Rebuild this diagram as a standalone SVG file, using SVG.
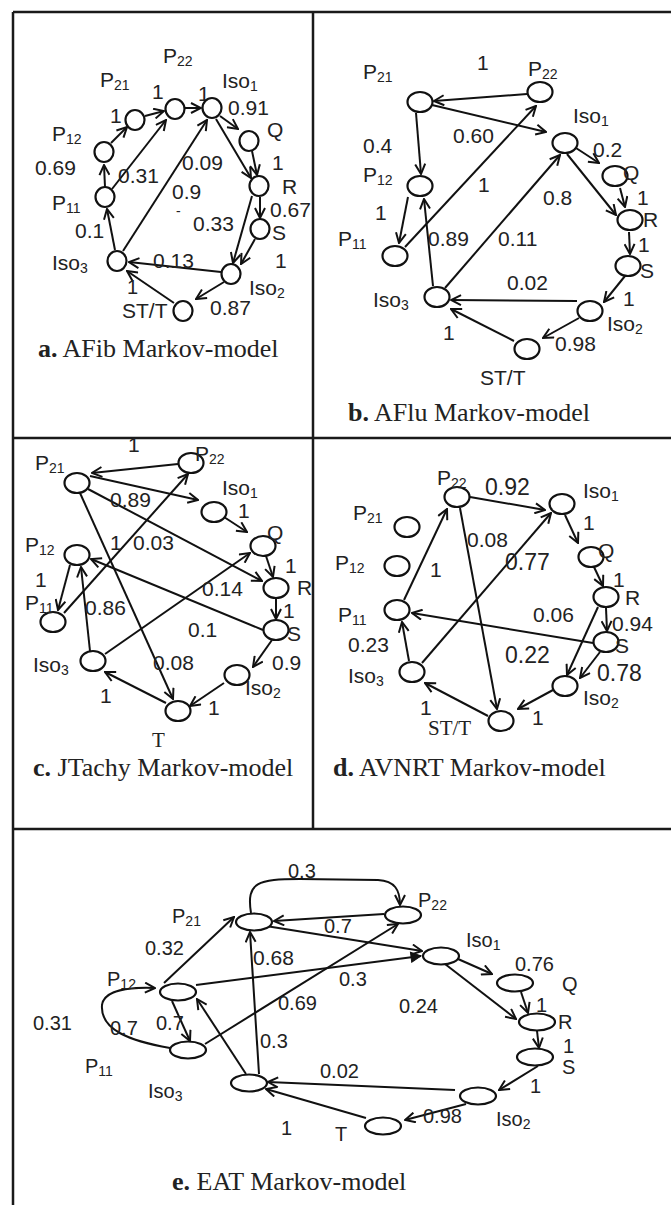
<svg xmlns="http://www.w3.org/2000/svg" width="671" height="1205" viewBox="0 0 671 1205">
<style>
.frame{fill:none;stroke:#1a1a1a;stroke-width:2.5}
.n{fill:#fff;stroke:#111;stroke-width:2.2}
.e{fill:none;stroke:#111;stroke-width:2;marker-end:url(#ah)}
.ef{fill:none;stroke:#111;stroke-width:2;marker-end:url(#ahf)}
text{font-family:"Liberation Sans",Arial,sans-serif;font-size:21px;fill:#222}
.sub{font-size:14px}
.cap{font-family:"Liberation Serif","Times New Roman",serif;font-size:26px;fill:#222}
.ser{font-family:"Liberation Serif","Times New Roman",serif;font-size:21px}
.e5 text{font-size:20px}
</style>
<defs>
<marker id="ah" viewBox="0 0 12 12" refX="11" refY="6" markerWidth="12" markerHeight="12" orient="auto" markerUnits="userSpaceOnUse"><path d="M1,1 L11,6 L1,11" fill="none" stroke="#111" stroke-width="2"/></marker>
<marker id="ahf" viewBox="0 0 12 12" refX="11" refY="6" markerWidth="12" markerHeight="12" orient="auto" markerUnits="userSpaceOnUse"><path d="M1,1 L11,6 L1,11 Z" fill="#111" stroke="#111" stroke-width="1"/></marker>
</defs>
<rect width="671" height="1205" fill="#fff"/>
<g id="frame">
<path class="frame" d="M13,12 H671 M13,12 V1205 M313,12 V829 M13,438 H671 M13,829 H671"/>
</g>

<!-- Panel a -->
<g id="a-connectors">
<line class="e" x1="105" y1="187" x2="104" y2="165"/>
<line class="e" x1="111" y1="143" x2="127" y2="127"/>
<line class="e" x1="145" y1="116" x2="164" y2="111"/>
<line class="e" x1="185" y1="108" x2="201" y2="108"/>
<line class="e" x1="220" y1="116" x2="238" y2="129"/>
<line class="e" x1="252" y1="151" x2="257" y2="175"/>
<line class="e" x1="216" y1="119" x2="251" y2="178"/>
<line class="e" x1="112" y1="189" x2="166" y2="120"/>
<line class="e" x1="123" y1="251" x2="207" y2="120"/>
<line class="e" x1="260" y1="197" x2="260" y2="218"/>
<line class="e" x1="252" y1="196" x2="233" y2="263"/>
<line class="e" x1="255" y1="239" x2="241" y2="264"/>
<line class="e" x1="221" y1="272" x2="129" y2="262"/>
<line class="e" x1="224" y1="282" x2="196" y2="299"/>
<line class="e" x1="174" y1="303" x2="127" y2="271"/>
<line class="e" x1="115" y1="250" x2="107" y2="209"/>
<text x="152" y="99">1</text>
<text x="198" y="101">1</text>
<text x="110" y="123">1</text>
<text x="228" y="115">0.91</text>
<text x="35" y="175">0.69</text>
<text x="118" y="183">0.31</text>
<text x="182" y="170">0.09</text>
<text x="272" y="170">1</text>
<text x="172" y="199">0.9</text>
<text x="176" y="216" style="font-size:14px">-</text>
<text x="270" y="217">0.67</text>
<text x="193" y="231">0.33</text>
<text x="75" y="238">0.1</text>
<text x="153" y="268">0.13</text>
<text x="275" y="268">1</text>
<text x="127" y="294" style="font-size:20px">1</text>
<text x="210" y="315">0.87</text>
</g>
<g id="a-P11"><ellipse class="n" cx="105" cy="197" rx="9.5" ry="10"/><text x="52" y="210">P<tspan class="sub" dy="3">11</tspan></text></g>
<g id="a-P12"><ellipse class="n" cx="104" cy="152" rx="9.5" ry="10"/><text x="52" y="141">P<tspan class="sub" dy="3">12</tspan></text></g>
<g id="a-P21"><ellipse class="n" cx="135" cy="120" rx="9.5" ry="10"/><text x="100" y="87">P<tspan class="sub" dy="3">21</tspan></text></g>
<g id="a-P22"><ellipse class="n" cx="175" cy="109" rx="9.5" ry="10"/><text x="163" y="63">P<tspan class="sub" dy="3">22</tspan></text></g>
<g id="a-Iso1"><ellipse class="n" cx="212" cy="108" rx="9.5" ry="10"/><text x="222" y="88">Iso<tspan class="sub" dy="3">1</tspan></text></g>
<g id="a-Q"><ellipse class="n" cx="249" cy="141" rx="9.5" ry="10"/><text x="267" y="137">Q</text></g>
<g id="a-R"><ellipse class="n" cx="259" cy="186" rx="9.5" ry="10"/><text x="282" y="194">R</text></g>
<g id="a-S"><ellipse class="n" cx="260" cy="229" rx="9.5" ry="10"/><text x="272" y="240">S</text></g>
<g id="a-Iso2"><ellipse class="n" cx="231" cy="274" rx="9.5" ry="10"/><text x="249" y="295">Iso<tspan class="sub" dy="3">2</tspan></text></g>
<g id="a-Iso3"><ellipse class="n" cx="117" cy="261" rx="9.5" ry="10"/><text x="52" y="270">Iso<tspan class="sub" dy="3">3</tspan></text></g>
<g id="a-STT"><ellipse class="n" cx="183" cy="311" rx="9.5" ry="10"/><text x="122" y="318">ST/T</text></g>
<text class="cap" x="38" y="357"><tspan font-weight="bold">a.</tspan> AFib Markov-model</text>

<!-- Panel b -->
<g id="b-connectors">
<line class="e" x1="527" y1="94" x2="434" y2="101"/>
<line class="e" x1="432" y1="105" x2="546" y2="132"/>
<line class="e" x1="416" y1="113" x2="421" y2="174"/>
<line class="e" x1="408" y1="197" x2="399" y2="243"/>
<line class="e" x1="405" y1="247" x2="536" y2="106"/>
<line class="e" x1="433" y1="286" x2="424" y2="199"/>
<line class="e" x1="445" y1="288" x2="560" y2="155"/>
<line class="e" x1="576" y1="148" x2="599" y2="163"/>
<line class="e" x1="567" y1="154" x2="616" y2="215"/>
<line class="e" x1="620" y1="188" x2="625" y2="207"/>
<line class="e" x1="629" y1="232" x2="630" y2="254"/>
<line class="e" x1="625" y1="276" x2="604" y2="302"/>
<line class="e" x1="577" y1="301" x2="451" y2="300"/>
<line class="e" x1="579" y1="318" x2="543" y2="338"/>
<line class="e" x1="514" y1="341" x2="451" y2="309"/>
<text x="477" y="70">1</text>
<text x="453" y="143">0.60</text>
<text x="363" y="153">0.4</text>
<text x="593" y="157">0.2</text>
<text x="478" y="192">1</text>
<text x="543" y="205">0.8</text>
<text x="637" y="205">1</text>
<text x="375" y="220">1</text>
<text x="428" y="246">0.89</text>
<text x="498" y="246">0.11</text>
<text x="638" y="252">1</text>
<text x="507" y="290">0.02</text>
<text x="623" y="306">1</text>
<text x="443" y="340">1</text>
<text x="555" y="351">0.98</text>
</g>
<g id="b-P21"><ellipse class="n" cx="420" cy="102" rx="12.5" ry="10"/><text x="363" y="79">P<tspan class="sub" dy="3">21</tspan></text></g>
<g id="b-P22"><ellipse class="n" cx="540" cy="92" rx="12.5" ry="10"/><text x="528" y="76">P<tspan class="sub" dy="3">22</tspan></text></g>
<g id="b-Iso1"><ellipse class="n" cx="565" cy="143" rx="12.5" ry="10"/><text x="573" y="123">Iso<tspan class="sub" dy="3">1</tspan></text></g>
<g id="b-Q"><ellipse class="n" cx="615" cy="176" rx="12.5" ry="10"/><text x="623" y="180">Q</text></g>
<g id="b-P12"><ellipse class="n" cx="420" cy="186" rx="12.5" ry="10"/><text x="363" y="182">P<tspan class="sub" dy="3">12</tspan></text></g>
<g id="b-R"><ellipse class="n" cx="630" cy="220" rx="12.5" ry="10"/><text x="643" y="227">R</text></g>
<g id="b-P11"><ellipse class="n" cx="395" cy="256" rx="12.5" ry="10"/><text x="338" y="246">P<tspan class="sub" dy="3">11</tspan></text></g>
<g id="b-S"><ellipse class="n" cx="628" cy="266" rx="12.5" ry="10"/><text x="640" y="278">S</text></g>
<g id="b-Iso3"><ellipse class="n" cx="437" cy="297" rx="12.5" ry="10"/><text x="373" y="307">Iso<tspan class="sub" dy="3">3</tspan></text></g>
<g id="b-Iso2"><ellipse class="n" cx="590" cy="311" rx="12.5" ry="10"/><text x="607" y="331">Iso<tspan class="sub" dy="3">2</tspan></text></g>
<g id="b-STT"><ellipse class="n" cx="527" cy="349" rx="12.5" ry="10"/><text x="480" y="385">ST/T</text></g>
<text class="cap" x="348" y="421"><tspan font-weight="bold">b.</tspan> AFlu Markov-model</text>

<!-- Panel c -->
<g id="c-connectors">
<line class="e" x1="178" y1="464" x2="92" y2="473"/>
<line class="e" x1="90" y1="476" x2="198" y2="500"/>
<line class="e" x1="224" y1="517" x2="247" y2="532"/>
<line class="e" x1="266" y1="556" x2="273" y2="577"/>
<line class="e" x1="88" y1="489" x2="262" y2="581"/>
<line class="e" x1="80" y1="493" x2="173" y2="699"/>
<line class="e" x1="64" y1="613" x2="188" y2="474"/>
<line class="e" x1="70" y1="565" x2="58" y2="610"/>
<line class="e" x1="90" y1="651" x2="81" y2="567"/>
<line class="e" x1="105" y1="654" x2="250" y2="553"/>
<line class="e" x1="263" y1="630" x2="91" y2="559"/>
<line class="e" x1="276" y1="598" x2="276" y2="619"/>
<line class="e" x1="272" y1="640" x2="253" y2="667"/>
<line class="e" x1="224" y1="683" x2="190" y2="706"/>
<line class="e" x1="166" y1="703" x2="105" y2="672"/>
<text x="128" y="452">1</text>
<text x="110" y="507">0.89</text>
<text x="238" y="518">1</text>
<text x="110" y="550">1</text>
<text x="133" y="550">0.03</text>
<text x="285" y="573">1</text>
<text x="35" y="587">1</text>
<text x="202" y="596">0.14</text>
<text x="85" y="615">0.86</text>
<text x="283" y="618">1</text>
<text x="188" y="637">0.1</text>
<text x="153" y="670">0.08</text>
<text x="272" y="670">0.9</text>
<text x="100" y="703">1</text>
<text x="208" y="715">1</text>
</g>
<g id="c-P21"><ellipse class="n" cx="77" cy="483" rx="12.5" ry="10"/><text x="35" y="470">P<tspan class="sub" dy="3">21</tspan></text></g>
<g id="c-P22"><ellipse class="n" cx="191" cy="463" rx="12.5" ry="10"/><text x="195" y="461">P<tspan class="sub" dy="3">22</tspan></text></g>
<g id="c-Iso1"><ellipse class="n" cx="214" cy="512" rx="12.5" ry="10"/><text x="222" y="495">Iso<tspan class="sub" dy="3">1</tspan></text></g>
<g id="c-Q"><ellipse class="n" cx="263" cy="546" rx="12.5" ry="10"/><text x="267" y="540">Q</text></g>
<g id="c-P12"><ellipse class="n" cx="77" cy="555" rx="12.5" ry="10"/><text x="25" y="552">P<tspan class="sub" dy="3">12</tspan></text></g>
<g id="c-R"><ellipse class="n" cx="276" cy="588" rx="12.5" ry="10"/><text x="297" y="595">R</text></g>
<g id="c-P11"><ellipse class="n" cx="53" cy="622" rx="12.5" ry="10"/><text x="25" y="610">P<tspan class="sub" dy="3">11</tspan></text></g>
<g id="c-S"><ellipse class="n" cx="276" cy="630" rx="12.5" ry="10"/><text x="287" y="641">S</text></g>
<g id="c-Iso3"><ellipse class="n" cx="93" cy="661" rx="12.5" ry="10"/><text x="33" y="672">Iso<tspan class="sub" dy="3">3</tspan></text></g>
<g id="c-Iso2"><ellipse class="n" cx="237" cy="675" rx="12.5" ry="10"/><text x="245" y="695">Iso<tspan class="sub" dy="3">2</tspan></text></g>
<g id="c-T"><ellipse class="n" cx="178" cy="711" rx="12.5" ry="10"/><text class="ser" x="152" y="747">T</text></g>
<text class="cap" x="33" y="776"><tspan font-weight="bold">c.</tspan> JTachy Markov-model</text>

<!-- Panel d -->
<g id="d-connectors">
<line class="e" x1="470" y1="497" x2="545" y2="510"/>
<line class="e" x1="565" y1="515" x2="578" y2="543"/>
<line class="e" x1="594" y1="567" x2="603" y2="586"/>
<line class="e" x1="606" y1="608" x2="607" y2="631"/>
<line class="e" x1="598" y1="607" x2="567" y2="675"/>
<line class="e" x1="600" y1="652" x2="580" y2="678"/>
<line class="e" x1="593" y1="643" x2="412" y2="613"/>
<line class="e" x1="553" y1="690" x2="518" y2="709"/>
<line class="e" x1="488" y1="716" x2="425" y2="683"/>
<line class="e" x1="409" y1="661" x2="402" y2="622"/>
<line class="e" x1="404" y1="600" x2="447" y2="509"/>
<line class="e" x1="422" y1="663" x2="551" y2="513"/>
<line class="e" x1="460" y1="508" x2="497" y2="709"/>
<text x="485" y="495" style="font-size:23px">0.92</text>
<text x="583" y="530">1</text>
<text x="467" y="547">0.08</text>
<text x="430" y="577">1</text>
<text x="505" y="570" style="font-size:23px">0.77</text>
<text x="613" y="587">1</text>
<text x="533" y="622">0.06</text>
<text x="612" y="631">0.94</text>
<text x="348" y="652">0.23</text>
<text x="505" y="663" style="font-size:23px">0.22</text>
<text x="597" y="681" style="font-size:23px">0.78</text>
<text x="420" y="715">1</text>
<text x="532" y="725">1</text>
</g>
<g id="d-P22"><ellipse class="n" cx="457" cy="497" rx="12.5" ry="10"/><text x="437" y="485">P<tspan class="sub" dy="3">22</tspan></text></g>
<g id="d-Iso1"><ellipse class="n" cx="562" cy="504" rx="12.5" ry="10"/><text x="583" y="498">Iso<tspan class="sub" dy="3">1</tspan></text></g>
<g id="d-P21"><ellipse class="n" cx="407" cy="527" rx="12.5" ry="10"/><text x="353" y="520">P<tspan class="sub" dy="3">21</tspan></text></g>
<g id="d-Q"><ellipse class="n" cx="591" cy="557" rx="12.5" ry="10"/><text x="598" y="558">Q</text></g>
<g id="d-P12"><ellipse class="n" cx="397" cy="566" rx="12.5" ry="10"/><text x="335" y="570">P<tspan class="sub" dy="3">12</tspan></text></g>
<g id="d-R"><ellipse class="n" cx="606" cy="597" rx="12.5" ry="10"/><text x="625" y="605">R</text></g>
<g id="d-P11"><ellipse class="n" cx="397" cy="610" rx="12.5" ry="10"/><text x="338" y="622">P<tspan class="sub" dy="3">11</tspan></text></g>
<g id="d-S"><ellipse class="n" cx="606" cy="642" rx="12.5" ry="10"/><text x="615" y="653">S</text></g>
<g id="d-Iso3"><ellipse class="n" cx="412" cy="672" rx="12.5" ry="10"/><text x="348" y="683">Iso<tspan class="sub" dy="3">3</tspan></text></g>
<g id="d-Iso2"><ellipse class="n" cx="565" cy="686" rx="12.5" ry="10"/><text x="583" y="705">Iso<tspan class="sub" dy="3">2</tspan></text></g>
<g id="d-STT"><ellipse class="n" cx="501" cy="721" rx="12.5" ry="10"/><text class="ser" x="428" y="735">ST/T</text></g>
<text class="cap" x="333" y="776"><tspan font-weight="bold">d.</tspan> AVNRT Markov-model</text>

<!-- Panel e -->
<g id="e-connectors" class="e5">
<path class="e" d="M251,913 C246,882 258,879 300,879 L378,880 C395,881 400,890 400,905"/>
<line class="e" x1="384" y1="914" x2="274" y2="921"/>
<line class="e" x1="266" y1="926" x2="422" y2="951"/>
<line class="ef" x1="196" y1="985" x2="421" y2="956"/>
<line class="e" x1="205" y1="1044" x2="398" y2="924"/>
<line class="e" x1="458" y1="959" x2="492" y2="974"/>
<line class="e" x1="445" y1="964" x2="516" y2="1019"/>
<line class="e" x1="521" y1="992" x2="528" y2="1013"/>
<line class="e" x1="537" y1="1031" x2="539" y2="1048"/>
<line class="e" x1="538" y1="1066" x2="499" y2="1090"/>
<line class="e" x1="455" y1="1090" x2="268" y2="1082"/>
<line class="e" x1="466" y1="1104" x2="405" y2="1120"/>
<line class="e" x1="366" y1="1118" x2="266" y2="1089"/>
<line class="e" x1="259" y1="1074" x2="250" y2="932"/>
<line class="e" x1="246" y1="1074" x2="197" y2="999"/>
<line class="e" x1="164" y1="983" x2="234" y2="917"/>
<line class="e" x1="172" y1="1001" x2="190" y2="1041"/>
<path class="e" d="M170,1048 C130,1041 100,1030 102,1005 C104,990 130,987 155,988"/>
<text x="288" y="878">0.3</text>
<text x="324" y="933">0.7</text>
<text x="145" y="955">0.32</text>
<text x="253" y="965" style="font-size:21px">0.68</text>
<text x="515" y="971">0.76</text>
<text x="339" y="986">0.3</text>
<text x="278" y="1010">0.69</text>
<text x="399" y="1013">0.24</text>
<text x="536" y="1012">1</text>
<text x="33" y="1030">0.31</text>
<text x="110" y="1035">0.7</text>
<text x="156" y="1030">0.7</text>
<text x="260" y="1048">0.3</text>
<text x="563" y="1053">1</text>
<text x="320" y="1078">0.02</text>
<text x="530" y="1093">1</text>
<text x="423" y="1123">0.98</text>
<text x="281" y="1135">1</text>
</g>
<g id="e-P21" class="e5"><ellipse class="n" cx="254" cy="922" rx="18" ry="8.5"/><text x="172" y="923">P<tspan class="sub" dy="3">21</tspan></text></g>
<g id="e-P22" class="e5"><ellipse class="n" cx="403" cy="915" rx="18" ry="8.5"/><text x="418" y="907">P<tspan class="sub" dy="3">22</tspan></text></g>
<g id="e-Iso1" class="e5"><ellipse class="n" cx="441" cy="956" rx="18" ry="8.5"/><text x="466" y="947">Iso<tspan class="sub" dy="3">1</tspan></text></g>
<g id="e-Q" class="e5"><ellipse class="n" cx="515" cy="983" rx="18" ry="8.5"/><text x="562" y="991">Q</text></g>
<g id="e-P12" class="e5"><ellipse class="n" cx="178" cy="992" rx="18" ry="8.5"/><text x="107" y="986">P<tspan class="sub" dy="3">12</tspan></text></g>
<g id="e-R" class="e5"><ellipse class="n" cx="537" cy="1022" rx="18" ry="8.5"/><text x="558" y="1029">R</text></g>
<g id="e-P11" class="e5"><ellipse class="n" cx="188" cy="1050" rx="18" ry="8.5"/><text x="85" y="1073">P<tspan class="sub" dy="3">11</tspan></text></g>
<g id="e-S" class="e5"><ellipse class="n" cx="535" cy="1057" rx="18" ry="8.5"/><text x="562" y="1074">S</text></g>
<g id="e-Iso3" class="e5"><ellipse class="n" cx="249" cy="1083" rx="18" ry="8.5"/><text x="148" y="1098">Iso<tspan class="sub" dy="3">3</tspan></text></g>
<g id="e-Iso2" class="e5"><ellipse class="n" cx="478" cy="1096" rx="18" ry="8.5"/><text x="496" y="1126">Iso<tspan class="sub" dy="3">2</tspan></text></g>
<g id="e-T" class="e5"><ellipse class="n" cx="383" cy="1126" rx="18" ry="8.5"/><text x="335" y="1141">T</text></g>
<text class="cap" x="172" y="1190"><tspan font-weight="bold">e.</tspan> EAT Markov-model</text>
</svg>
